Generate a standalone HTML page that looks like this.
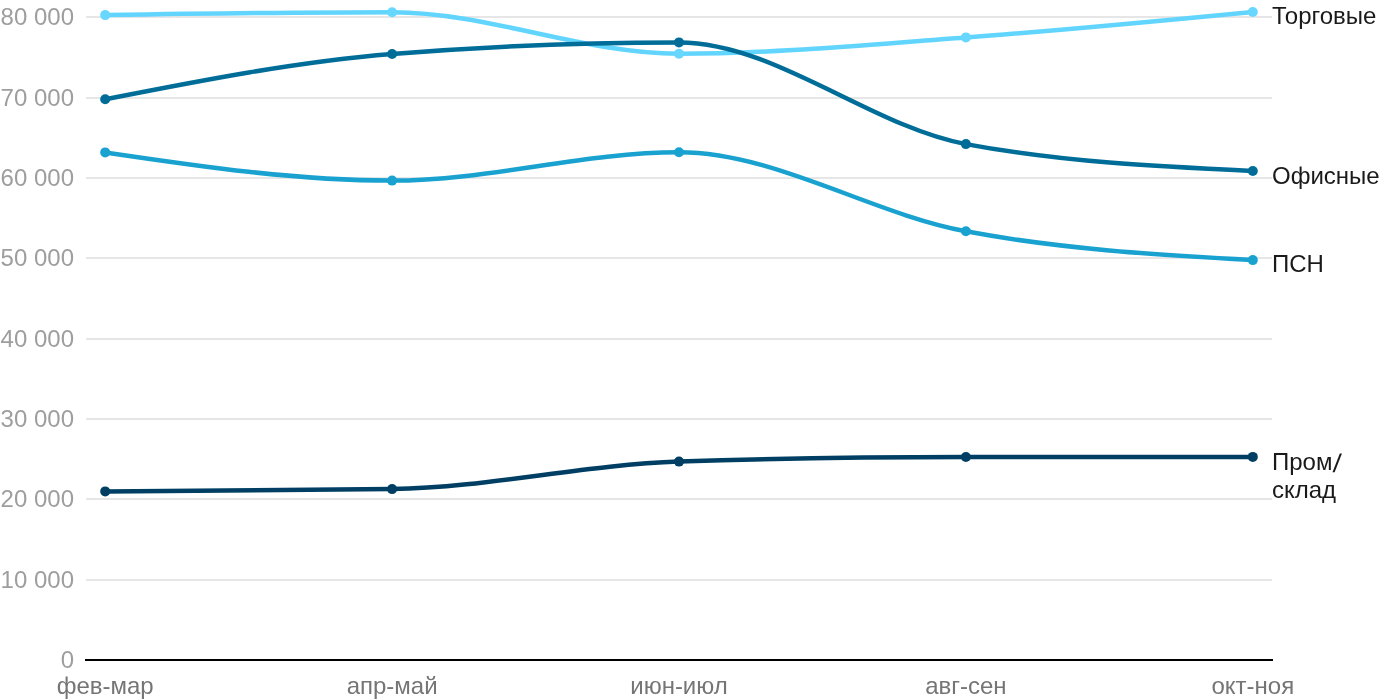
<!DOCTYPE html>
<html><head><meta charset="utf-8"><style>
html,body{margin:0;padding:0;background:#fff;width:1400px;height:700px;overflow:hidden}
svg{display:block;will-change:transform}
text{font-family:"Liberation Sans",Arial,sans-serif;font-size:24px}
.yl{fill:#9e9e9e;text-anchor:end}
.xl{fill:#757575;text-anchor:middle}
.lg{fill:#1a1a1a}
</style></head><body>
<svg width="1400" height="700" viewBox="0 0 1400 700">
<rect x="86" y="579" width="1186" height="2" fill="#e6e6e6"/>
<rect x="86" y="498" width="1186" height="2" fill="#e6e6e6"/>
<rect x="86" y="418" width="1186" height="2" fill="#e6e6e6"/>
<rect x="86" y="338" width="1186" height="2" fill="#e6e6e6"/>
<rect x="86" y="257" width="1186" height="2" fill="#e6e6e6"/>
<rect x="86" y="177" width="1186" height="2" fill="#e6e6e6"/>
<rect x="86" y="97" width="1186" height="2" fill="#e6e6e6"/>
<rect x="86" y="16" width="1186" height="2" fill="#e6e6e6"/>
<text x="74" y="668.00" class="yl">0</text>
<text x="74" y="588.00" class="yl">10 000</text>
<text x="74" y="507.00" class="yl">20 000</text>
<text x="74" y="427.00" class="yl">30 000</text>
<text x="74" y="347.00" class="yl">40 000</text>
<text x="74" y="266.00" class="yl">50 000</text>
<text x="74" y="186.00" class="yl">60 000</text>
<text x="74" y="106.00" class="yl">70 000</text>
<text x="74" y="25.00" class="yl">80 000</text>
<rect x="85" y="659" width="1188" height="2" fill="#000"/>
<text x="105.20" y="694" class="xl">фев-мар</text>
<text x="392.10" y="694" class="xl">апр-май</text>
<text x="679.00" y="694" class="xl">июн-июл</text>
<text x="965.90" y="694" class="xl">авг-сен</text>
<text x="1252.80" y="694" class="xl">окт-ноя</text>
<path d="M105.20,15.10C200.83,13.65,296.47,12.20,392.10,12.20C487.73,12.20,583.37,53.80,679.00,53.80C774.63,53.80,870.27,44.38,965.90,37.40C1061.53,30.43,1157.17,21.19,1252.80,11.95" fill="none" stroke="#62d5fe" stroke-width="4.5" stroke-linejoin="round" stroke-linecap="round"/>
<circle cx="105.20" cy="15.10" r="5" fill="#68d7ff"/>
<circle cx="392.10" cy="12.20" r="5" fill="#68d7ff"/>
<circle cx="679.00" cy="53.80" r="5" fill="#68d7ff"/>
<circle cx="965.90" cy="37.40" r="5" fill="#68d7ff"/>
<circle cx="1252.80" cy="11.95" r="5" fill="#68d7ff"/>
<path d="M105.20,99.30C200.83,80.52,296.47,61.73,392.10,54.00C487.73,46.27,583.37,42.40,679.00,42.40C774.63,42.40,870.27,126.17,965.90,144.10C1061.53,162.03,1157.17,166.52,1252.80,171.00" fill="none" stroke="#006d99" stroke-width="4.5" stroke-linejoin="round" stroke-linecap="round"/>
<circle cx="105.20" cy="99.30" r="5" fill="#006d99"/>
<circle cx="392.10" cy="54.00" r="5" fill="#006d99"/>
<circle cx="679.00" cy="42.40" r="5" fill="#006d99"/>
<circle cx="965.90" cy="144.10" r="5" fill="#006d99"/>
<circle cx="1252.80" cy="171.00" r="5" fill="#006d99"/>
<path d="M105.20,152.40C200.83,166.50,296.47,180.60,392.10,180.60C487.73,180.60,583.37,152.30,679.00,152.30C774.63,152.30,870.27,213.33,965.90,231.30C1061.53,249.27,1157.17,254.68,1252.80,260.10" fill="none" stroke="#19a2cf" stroke-width="4.5" stroke-linejoin="round" stroke-linecap="round"/>
<circle cx="105.20" cy="152.40" r="5" fill="#19a2cf"/>
<circle cx="392.10" cy="180.60" r="5" fill="#19a2cf"/>
<circle cx="679.00" cy="152.30" r="5" fill="#19a2cf"/>
<circle cx="965.90" cy="231.30" r="5" fill="#19a2cf"/>
<circle cx="1252.80" cy="260.10" r="5" fill="#19a2cf"/>
<path d="M105.20,491.40C200.83,491.02,296.47,490.63,392.10,489.10C487.73,487.57,583.37,464.67,679.00,461.60C774.63,458.53,870.27,457.07,965.90,457.00C1061.53,456.93,1157.17,456.92,1252.80,456.90" fill="none" stroke="#013e63" stroke-width="4.5" stroke-linejoin="round" stroke-linecap="round"/>
<circle cx="105.20" cy="491.40" r="5" fill="#013e63"/>
<circle cx="392.10" cy="489.10" r="5" fill="#013e63"/>
<circle cx="679.00" cy="461.60" r="5" fill="#013e63"/>
<circle cx="965.90" cy="457.00" r="5" fill="#013e63"/>
<circle cx="1252.80" cy="456.90" r="5" fill="#013e63"/>
<text x="1272" y="24.2" class="lg">Торговые</text>
<text x="1272" y="183.6" class="lg">Офисные</text>
<text x="1272" y="271.6" class="lg">ПСН</text>
<text x="1272" y="469.8" class="lg">Пром</text>
<text transform="translate(1332.6,471.8) skewX(-5.5) scale(1.15,1.06)" class="lg">/</text>
<text x="1272" y="497.7" class="lg">склад</text>
</svg>
</body></html>
